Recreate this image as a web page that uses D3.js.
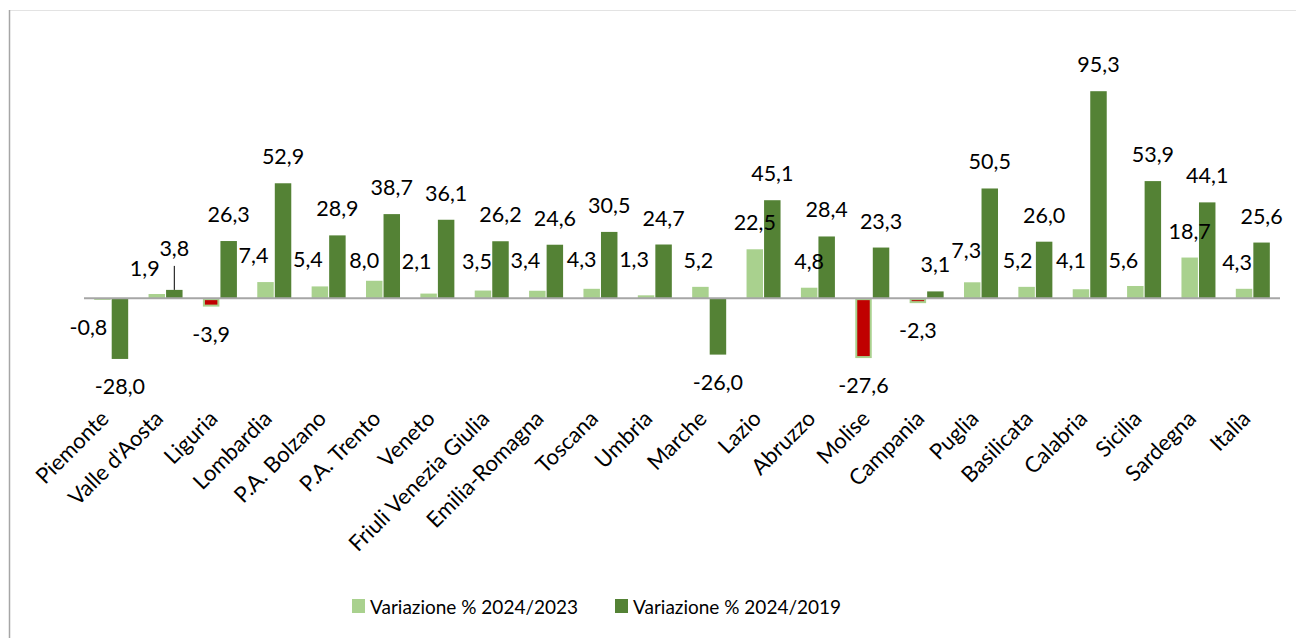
<!DOCTYPE html>
<html>
<head>
<meta charset="utf-8">
<script src="https://cdn.jsdelivr.net/npm/d3@7"></script>
<style>
  body { margin: 0; background: #ffffff; }
  svg { display: block; }
  text { font-family: Lato, "Open Sans", sans-serif; fill: #000000; }
</style>
</head>
<body>
<svg id="chart" width="1296" height="638"></svg>
<script>
// Regions (plus the national total) on the category axis
const regions = [
  "Piemonte", "Valle d'Aosta", "Liguria", "Lombardia", "P.A. Bolzano", "P.A. Trento",
  "Veneto", "Friuli Venezia Giulia", "Emilia-Romagna", "Toscana", "Umbria", "Marche",
  "Lazio", "Abruzzo", "Molise", "Campania", "Puglia", "Basilicata", "Calabria",
  "Sicilia", "Sardegna", "Italia"
];

// Percentage change 2024 vs 2023
const var2024_2023 = [
  -0.8, 1.9, -3.9, 7.4, 5.4, 8.0, 2.1, 3.5, 3.4, 4.3, 1.3, 5.2,
  22.5, 4.8, -27.6, -2.3, 7.3, 5.2, 4.1, 5.6, 18.7, 4.3
];

// Percentage change 2024 vs 2019
const var2024_2019 = [
  -28.0, 3.8, 26.3, 52.9, 28.9, 38.7, 36.1, 26.2, 24.6, 30.5, 24.7, -26.0,
  45.1, 28.4, 23.3, 3.1, 50.5, 26.0, 95.3, 53.9, 44.1, 25.6
];

const seriesNames = ["Variazione % 2024/2023", "Variazione % 2024/2019"];
const yDomain = [-40, 100];

// ---- styling / layout ----
const colors = { light: "#a9d18e", dark: "#548235", negative: "#c00000", axis: "#a6a6a6" };
const plot = { left: 84, right: 1280, top: 81, bottom: 385 };

// Manual nudges [dx, dy] for the 2024/2023 value labels so they clear the neighbouring bars
const lightLabelNudge = {
  "Piemonte": [-14, 0], "Valle d'Aosta": [-12, 1], "Lombardia": [-12, 0],
  "P.A. Bolzano": [-12, 0], "P.A. Trento": [-10, 6], "Veneto": [-12, -6],
  "Friuli Venezia Giulia": [-6, -3], "Emilia-Romagna": [-12, -4], "Toscana": [-10, -3],
  "Umbria": [-12, -9], "Marche": [-2, 0], "Puglia": [-6, -5], "Basilicata": [-9, 0],
  "Calabria": [-10, -2], "Sicilia": [-12, 1], "Italia": [-7, 0]
};
// Labels lifted off their bar, joined back to it with a leader line
const raisedDarkLabels = { "Valle d'Aosta": 15 };

const svg = d3.select("#chart");

// chart frame
svg.append("line").attr("x1", 9).attr("x2", 1296).attr("y1", 10.5).attr("y2", 10.5)
  .attr("stroke", "#e3e3e3").attr("stroke-width", 1);
svg.append("line").attr("x1", 9.5).attr("x2", 9.5).attr("y1", 10).attr("y2", 638)
  .attr("stroke", "#a6a6a6").attr("stroke-width", 1.5);

const x = d3.scaleBand().domain(regions)
  .range([plot.left, plot.right]).paddingInner(0.3745).paddingOuter(0.3745 / 2);
const xs = d3.scaleBand().domain([0, 1]).range([0, x.bandwidth()]).paddingInner(0.06);
const y = d3.scaleLinear().domain(yDomain).range([plot.bottom, plot.top]);

const it = d3.formatLocale({ decimal: ",", thousands: ".", grouping: [3], currency: ["", " €"], minus: "-" });
const fmt = it.format(".1f");

const rows = regions.map((r, i) => ({ region: r, values: [var2024_2023[i], var2024_2019[i]] }));

// ---- bars ----
const groups = svg.append("g").selectAll("g").data(rows).join("g")
  .attr("transform", d => `translate(${x(d.region)},0)`);

groups.each(function (d) {
  const g = d3.select(this);
  d.values.forEach((v, k) => {
    const bx = xs(k), bw = xs.bandwidth();
    const top = y(Math.max(0, v)), h = Math.abs(y(v) - y(0));
    if (k === 0 && v < 0 && h > 3) {
      // negative 2024/2023 change: inverted red fill inside a light-green outline
      g.append("rect").attr("x", bx + 1).attr("y", top + 1).attr("width", bw - 2).attr("height", h - 2)
        .attr("fill", colors.negative).attr("stroke", colors.light).attr("stroke-width", 2);
    } else {
      g.append("rect").attr("x", bx).attr("y", top).attr("width", bw).attr("height", h)
        .attr("fill", k === 0 ? colors.light : colors.dark);
    }
  });
});

// zero line
svg.append("line").attr("x1", plot.left).attr("x2", plot.right)
  .attr("y1", y(0)).attr("y2", y(0)).attr("stroke", colors.axis).attr("stroke-width", 2);

// ---- value labels ----
const labels = svg.append("g").attr("font-size", 21.5).attr("text-anchor", "middle");
rows.forEach(d => {
  d.values.forEach((v, k) => {
    let cx = x(d.region) + xs(k) + xs.bandwidth() / 2;
    let by = v >= 0 ? y(v) - 19 : y(v) + 35;
    if (k === 0 && lightLabelNudge[d.region]) {
      cx += lightLabelNudge[d.region][0];
      by += lightLabelNudge[d.region][1];
    }
    if (k === 1 && raisedDarkLabels[d.region]) {
      by -= raisedDarkLabels[d.region];
      labels.append("line").attr("x1", cx).attr("x2", cx)
        .attr("y1", by + 10).attr("y2", y(v)).attr("stroke", "#000").attr("stroke-width", 1);
    }
    labels.append("text").attr("x", cx).attr("y", by).text(fmt(v));
  });
});

// ---- category axis labels ----
svg.append("g").attr("font-size", 22).selectAll("text").data(regions).join("text")
  .attr("text-anchor", "end")
  .attr("transform", r => `translate(${x(r) + x.bandwidth() / 2 - 1},420) rotate(-45)`)
  .text(r => r);

// ---- legend ----
const legend = svg.append("g").attr("font-size", 19);
const legendX = [352, 615];
seriesNames.forEach((name, k) => {
  legend.append("rect").attr("x", legendX[k]).attr("y", 599).attr("width", 13).attr("height", 14)
    .attr("fill", k === 0 ? colors.light : colors.dark);
  legend.append("text").attr("x", legendX[k] + 18).attr("y", 614).text(name);
});
</script>
</body>
</html>
